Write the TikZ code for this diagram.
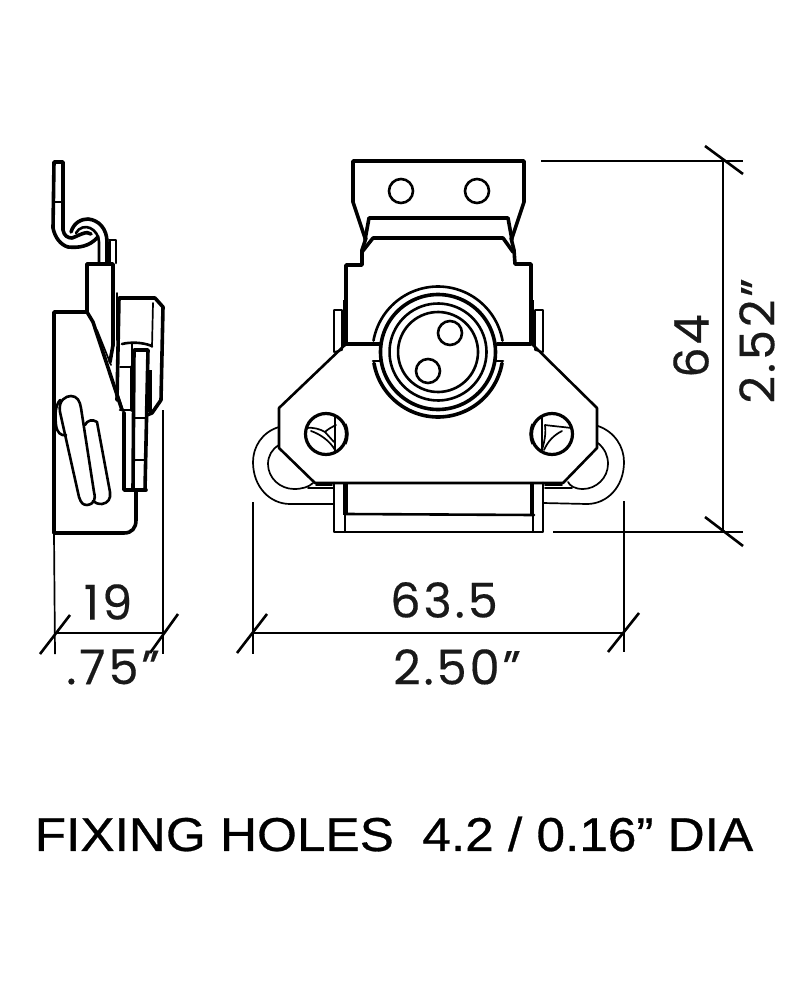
\documentclass[tikz,border=0pt]{standalone}
\usepackage{fontspec}
\setmainfont{Liberation Sans}
\newfontfamily\boldish[FakeBold=0.6]{Liberation Sans}
\newfontfamily\dimfont[LetterSpace=6,FakeBold=0.3]{Poppins}
\usetikzlibrary{calc}
\tikzset{
  heavy/.style={line width=3.6pt,line join=round,line cap=round},
  med/.style={line width=2.6pt,line join=round,line cap=round},
  lite/.style={line width=1.7pt,line join=round,line cap=round},
  dim/.style={line width=1.7pt,line cap=butt},
  tick/.style={line width=2.6pt,line cap=butt},
  lab/.style={inner sep=0pt,anchor=center,font=\dimfont\fontsize{48}{48}\selectfont,text=black!90}
}
\newcommand{\ringarc}[4]{\draw[#1] plot[domain=#3:#4,samples=70,smooth] ({438+#2*cos(\x)},{352-#2*sin(\x)});}
\begin{document}
\begin{tikzpicture}[x=1pt,y=-1pt]
\useasboundingbox (0,0) rectangle (800,1000);
\fill[white] (0,0) rectangle (800,1000);
% ---------- front view: top plate
\draw[heavy] (365,238) -- (353,202) -- (353,161) -- (524,161) -- (524,202) -- (512,238);
\draw[med] (401,191) circle (12);
\draw[med] (477,191) circle (12);
\draw[heavy] (365,240) -- (369,218) -- (508,218) -- (512,240);
\draw[heavy] (362,252) -- (373,238) -- (503,238) -- (513,252);
% body
\draw[heavy] (381,344) -- (346,344) -- (346,265) -- (362,265) -- (362,250) -- (366,238);
\draw[heavy] (497,344) -- (531,344) -- (531,264) -- (515,264) -- (514,250) -- (511,238);
% side tabs
\draw[lite] (342,350) -- (334,352) -- (334,310) -- (342,310) -- (342,350);
\draw[lite] (535,350) -- (543,352) -- (543,310) -- (535,310) -- (535,350);
\draw[line width=4.5pt] (345,300) -- (345,345);
\draw[line width=4.5pt] (532,300) -- (532,345);
% plate
\draw[med] (346,344) -- (279,408) -- (279,448) -- (315,483) -- (563,483) -- (597,448) -- (597,408) -- (532,344);
% rings
\ringarc{med}{65.5}{10}{170}
\ringarc{heavy}{57.5}{0}{360}
\ringarc{heavy}{65}{190}{350}
\draw[med] (373,361) -- (381,361);
\draw[med] (503,361) -- (495,361);
\ringarc{med}{48.5}{0}{360}
\ringarc{med}{40}{0}{360}
\draw[med] (450,333) circle (12);
\draw[med] (428,371) circle (12);
% screws
\draw[line width=3.2pt] (326,434) circle (20.5);
\draw[line width=3pt] (345,424) .. controls (348,431) and (348,437) .. (345,444);
\draw[lite] (335,417) -- (335,451);
\draw[lite] (306,428) .. controls (313,427) and (320,429) .. (325,432) .. controls (328,429) and (332,427) .. (336,425);
\draw[lite] (311,431) .. controls (320,434) and (330,441) .. (335,450);
\draw[lite] (325,432) -- (334,442);
\draw[line width=3.2pt] (552,434) circle (20.5);
\draw[line width=3pt] (533,424) .. controls (530,431) and (530,437) .. (533,444);
\draw[lite] (542,417) -- (542,451);
\draw[lite] (571,428) .. controls (564,427) and (552,426) .. (545,425) .. controls (546,432) and (545,440) .. (542,450);
\draw[lite] (562,431) .. controls (554,435) and (548,441) .. (544,450);
% loops
\draw[lite] (279,427) .. controls (262,432) and (253,447) .. (253,462) .. controls (253,487) and (270,504) .. (290,504) -- (334,504);
\draw[lite] (279,445) .. controls (272,449) and (268,456) .. (268,464) .. controls (268,478) and (280,489) .. (294,489) .. controls (302,489) and (309,487) .. (313,483);
\draw[lite] (308,488) -- (334,488);
\draw[lite] (316,485) -- (332,485);
\draw[lite] (598,426) .. controls (615,432) and (624,447) .. (624,462) .. controls (624,487) and (607,504) .. (587,504) -- (543,503);
\draw[lite] (598,443) .. controls (605,449) and (608,456) .. (608,464) .. controls (608,478) and (596,489) .. (583,489) .. controls (575,489) and (570,486) .. (568,482);
\draw[lite] (545,488) -- (572,488);
\draw[lite] (545,485) -- (562,485);
% bottom slot
\draw[med] (334,483) -- (334,532) -- (543,532) -- (543,483);
\draw[line width=4.5pt] (345.5,484) -- (345.5,515);
\draw[line width=4.5pt] (532,484) -- (532,515);
\draw[lite] (345,515) -- (345,532);
\draw[lite] (533,515) -- (533,532);
\draw[med] (346,514) -- (534,515);
% ---------- side view: base
\draw[heavy] (54,533) -- (54,312) -- (87,312) -- (93,322) -- (122,410);
\draw[heavy] (54,533) -- (124,533) .. controls (132,533) and (136,528) .. (136,520) -- (136,490);
% block
\draw[heavy] (87,312) -- (87,264) -- (113,264) -- (113,345);
\draw[heavy] (113,345) -- (110,362);
\draw[lite] (117,293) -- (117,340);
\draw[lite] (97,330) -- (111,365);
% spring clip
\draw[heavy] (117,400) -- (119,298) -- (155,298) -- (163,307) -- (161,400) -- (152,413) -- (147,415);
\draw[lite] (153,303) -- (152,347);
\draw[med] (120,410) -- (131,410);
\draw[lite] (120,367) -- (132,367);
\draw[med] (122,344) .. controls (130,342) and (142,342) .. (152,346);
\draw[lite] (132,344) -- (132,367);
\draw[heavy] (132,367) -- (132,410);
\draw[line width=3.5pt] (134,350) -- (148,350);
\draw[heavy] (134,350) -- (133,490);
\draw[heavy] (148,350) -- (145,490);
\draw[line width=3.5pt] (150,370) -- (150,412);
\draw[lite] (133,418) -- (146,418);
\draw[lite] (133,460) -- (145,460);
\draw[heavy] (124,413) -- (124,490) -- (146,490);
\draw[lite] (118,395) -- (124,413);
% wire
\draw[heavy] (98,237) .. controls (89,247) and (78,248) .. (68,247) .. controls (61,245) and (55,238) .. (53,228) -- (54,162) -- (63,162) -- (63,230) .. controls (64,236) and (68,238) .. (72,238);
\draw[lite] (54,202) -- (63,202);
\draw[heavy] (72,238) .. controls (78,236) and (87,230) .. (91,234);
\draw[heavy] (71,232) .. controls (74,222) and (82,219) .. (88,219) .. controls (99,220) and (107,229) .. (107,242) -- (107,263);
\draw[med] (76,233) .. controls (79,227) and (86,226) .. (90,228) .. controls (95,230) and (99,236) .. (99,242) -- (99,263);
\draw[med] (109,240) -- (116,240) -- (116,263);
\draw[lite] (110,240) -- (110,263);
% lever
\draw[med] (60,412) .. controls (58,400) and (66,396) .. (71,396) .. controls (77,396) and (80,401) .. (81,408) -- (94,492) .. controls (96,500) and (94,504) .. (87,505) .. controls (83,505) and (81,503) .. (79,497) -- (60,412);
\draw[med] (85,425) .. controls (87,420) and (93,419) .. (97,422) -- (110,492) .. controls (111,499) and (108,503) .. (102,504) .. controls (98,504) and (95,503) .. (93,501);
\draw[med] (60,400) .. controls (55,406) and (55,415) .. (56,425) .. controls (57,433) and (61,436) .. (66,435);
% ---------- dimension lines
\draw[dim] (54,533) -- (55,654);
\draw[dim] (163,410) -- (163,654);
\draw[dim] (55,633) -- (163,633);
\draw[tick] (40,654) -- (70,615);
\draw[tick] (150,653) -- (178,614);
\draw[dim] (253,502) -- (253,654);
\draw[dim] (624,501) -- (624,652);
\draw[dim] (253,633) -- (624,633);
\draw[tick] (237,653) -- (267,614);
\draw[tick] (608,652) -- (639,613);
\draw[dim] (723,161) -- (723,532);
\draw[dim] (541,161) -- (743,161);
\draw[dim] (553,532) -- (743,532);
\draw[tick] (705,146) -- (743,174);
\draw[tick] (705,517) -- (743,546);
% ---------- labels
\node[lab] (d19) at (108,602) {19};
\node[lab] (d75) at (113,667) {.75”};
\node[lab] (d635) at (444,600) {63.5};
\node[lab] (d250) at (457,667) {2.50”};
\node[lab,rotate=90] (d64) at (691,346) {64};
\node[lab,rotate=90] (d252) at (757,341) {2.52”};
\node[inner sep=0pt,font=\boldish\fontsize{47.5}{47.5}\selectfont,text=black,xscale=1.08] (note) at (394,834) {FIXING HOLES\ \ 4.2 / 0.16” DIA};
\end{tikzpicture}
\end{document}
